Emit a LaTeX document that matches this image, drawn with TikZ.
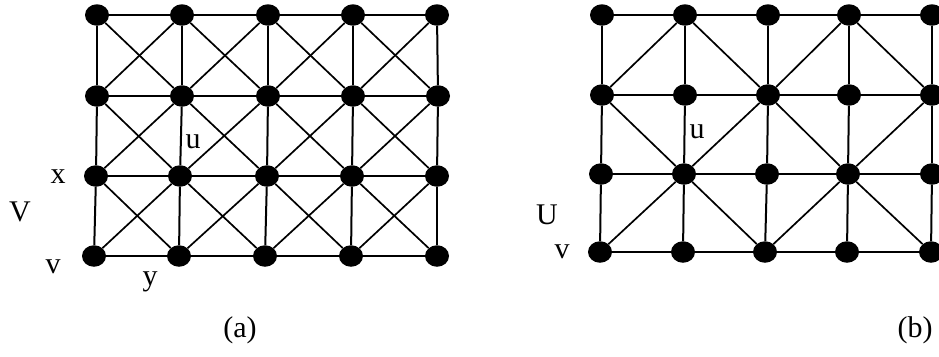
\documentclass[tikz,border=0pt]{standalone}
\usepackage{fontspec}
\setmainfont{Liberation Serif}
\usetikzlibrary{shapes.geometric}
\begin{document}
\begin{tikzpicture}[x=1pt,y=-1pt,
  vtx/.style={ellipse,fill=black,minimum width=24pt,minimum height=21.5pt,inner sep=0pt},
  edge/.style={line width=2pt},
  dg/.style={line width=1.7pt},
  lbl/.style={font=\fontsize{30}{36}\selectfont,inner sep=0pt}]
\useasboundingbox (0,0) rectangle (939,356);
\clip (0,0) rectangle (939,356);
% graph (a)
\foreach \xx [count=\ci from 0] in {97,182,268,353,437} \node[vtx] (a\ci0) at (\xx,15) {};
\foreach \xx [count=\ci from 0] in {97,182,268,353,438} \node[vtx] (a\ci1) at (\xx,96) {};
\foreach \xx [count=\ci from 0] in {96,180,267,352,437} \node[vtx] (a\ci2) at (\xx,176) {};
\foreach \xx [count=\ci from 0] in {94,179,265,351,437} \node[vtx] (a\ci3) at (\xx,256) {};
% graph (b)
\foreach \xx [count=\ci from 0] in {602,685,768,849,932} \node[vtx] (b\ci0) at (\xx,15) {};
\foreach \xx [count=\ci from 0] in {602,685,768,849,932} \node[vtx] (b\ci1) at (\xx,95) {};
\foreach \xx [count=\ci from 0] in {601,684,767,848,932} \node[vtx] (b\ci2) at (\xx,174) {};
\foreach \xx [count=\ci from 0] in {600,683,765,847,931} \node[vtx] (b\ci3) at (\xx,252) {};
% grid edges
\foreach \gg in {a,b}{
  \foreach \jj in {0,1,2,3}{
    \foreach \ii in {0,1,2,3}{
      \pgfmathtruncatemacro\iin{\ii+1}
      \draw[edge] (\gg\ii\jj) -- (\gg\iin\jj);
    }
  }
  \foreach \ii in {0,1,2,3,4}{
    \foreach \jj in {0,1,2}{
      \pgfmathtruncatemacro\jjn{\jj+1}
      \draw[edge] (\gg\ii\jj) -- (\gg\ii\jjn);
    }
  }
}
% (a) both diagonals in every cell
\foreach \ii in {0,1,2,3}{
  \foreach \jj in {0,1,2}{
    \pgfmathtruncatemacro\iin{\ii+1}
    \pgfmathtruncatemacro\jjn{\jj+1}
    \draw[dg] (a\ii\jj) -- (a\iin\jjn);
    \draw[dg] (a\iin\jj) -- (a\ii\jjn);
  }
}
% (b) one diagonal per cell
\foreach \pp/\qq in {b10/b01,b10/b21,b30/b21,b30/b41,
                     b01/b12,b21/b12,b21/b32,b41/b32,
                     b12/b03,b12/b23,b32/b23,b32/b43}
  \draw[dg] (\pp) -- (\qq);
% labels
\node[lbl] (lu) at (193,142) {u};
\node[lbl] (lx) at (58,177) {x};
\node[lbl] (lV) at (20,212) {V};
\node[lbl] (lv) at (53,267) {v};
\node[lbl] (ly) at (150,282) {y};
\node[lbl] (la) at (240,330) {(a)};
\node[lbl] (lu2) at (697,132) {u};
\node[lbl] (lU) at (547,215) {U};
\node[lbl] (lv2) at (562,252) {v};
\node[lbl] (lb) at (915,330) {(b)};
\end{tikzpicture}
\end{document}
